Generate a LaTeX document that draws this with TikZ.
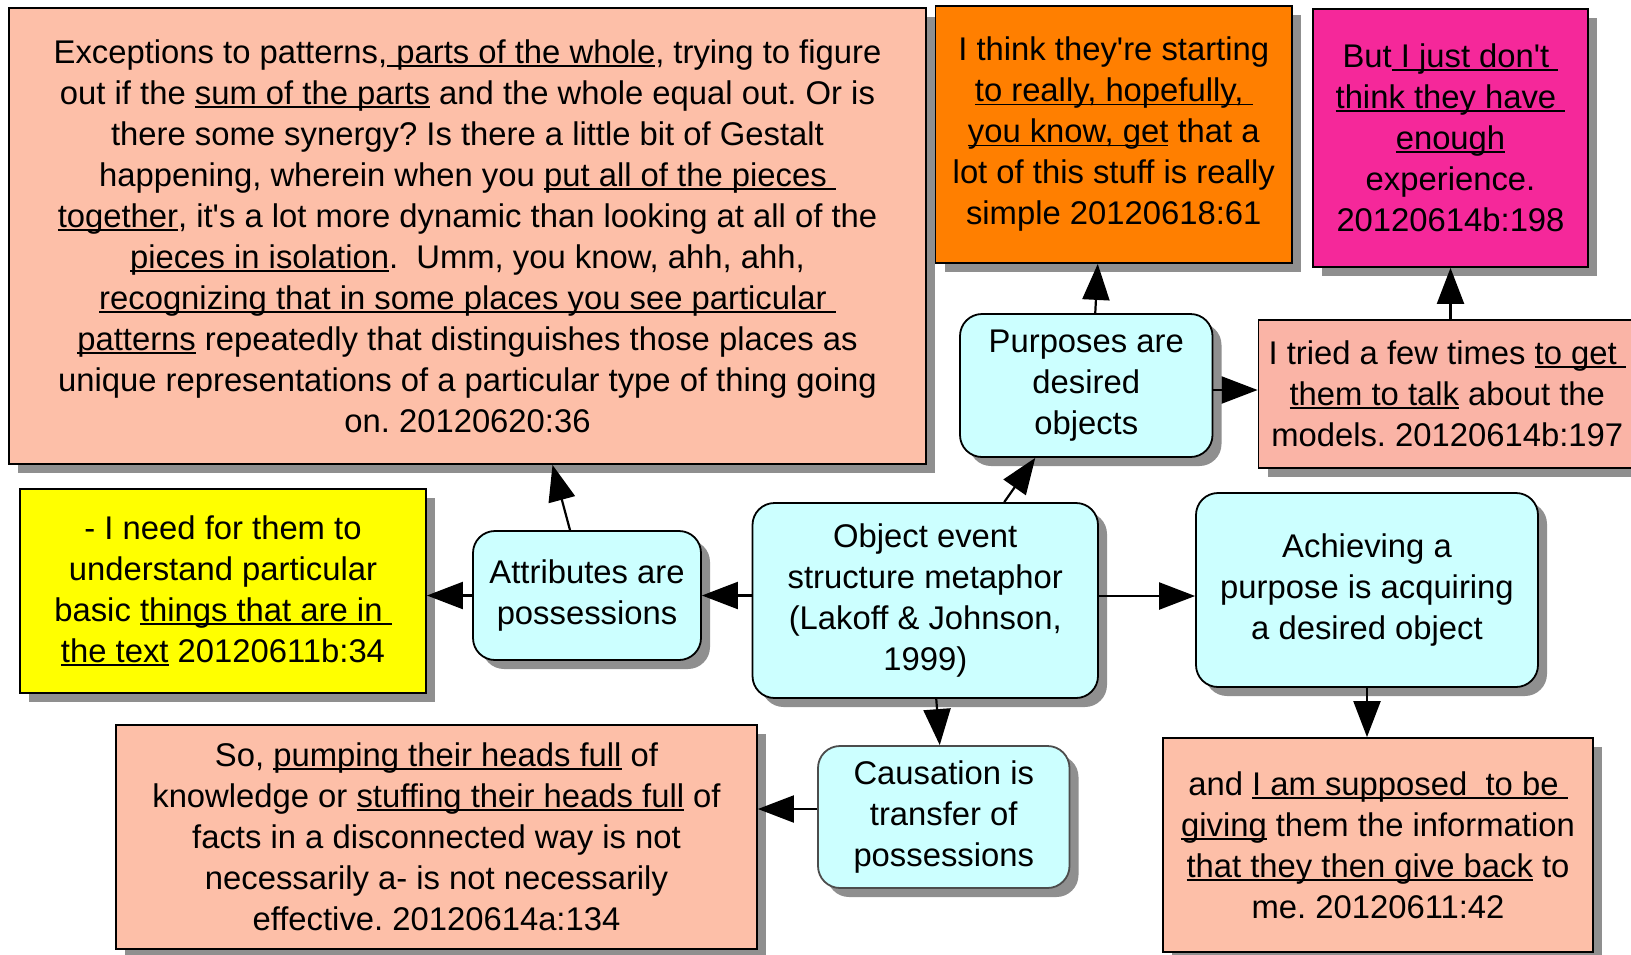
\documentclass[tikz,border=0pt]{standalone}
\usepackage{fontspec}
\setmainfont{Liberation Sans}
\newcommand{\myul}[1]{\setbox0\hbox{#1}\rlap{\rule[-3.5pt]{\wd0}{1.8pt}}\box0\relax}
\newcommand{\ap}{\textquotesingle}
\usetikzlibrary{arrows.meta}
\definecolor{peach}{HTML}{FDBFA8}
\definecolor{pinkpeach}{HTML}{FAB4A6}
\definecolor{orangefill}{HTML}{FF7F00}
\definecolor{magentafill}{HTML}{F5289A}
\definecolor{yellowfill}{HTML}{FFFF00}
\definecolor{cyanfill}{HTML}{CCFFFF}
\definecolor{shadowgray}{HTML}{8F8F8F}
\tikzset{
  shadowed/.style={preaction={fill=shadowgray, draw=none, transform canvas={shift={(9pt,-9pt)}}}},
  box/.style={shadowed, draw=black, line width=1.8pt, align=center, inner sep=0pt,
    font=\fontsize{32.8}{41}\selectfont\frenchspacing},
  rbox/.style={box, rounded corners=22pt, fill=cyanfill},
  arr/.style={-{Triangle[length=36pt,width=27pt]}, line width=2.2pt, draw=black}
}
\begin{document}
\begin{tikzpicture}[x=1pt,y=-1pt]
\useasboundingbox (0,0) rectangle (1631,954);
% text boxes
\node[box, fill=peach, minimum width=917pt, minimum height=456pt] (A) at (467.5,236)
 {Exceptions to patterns,\myul{ parts of the whole}, trying to figure\\
  out if the \myul{sum of the parts} and the whole equal out. Or is\\
  there some synergy? Is there a little bit of Gestalt\\
  happening, wherein when you \myul{put all of the pieces }\\
  \myul{together}, it\ap s a lot more dynamic than looking at all of the\\
  \myul{pieces in isolation}.\ \ Umm, you know, ahh, ahh,\\
  \myul{recognizing that in some places you see particular }\\
  \myul{patterns} repeatedly that distinguishes those places as\\
  unique representations of a particular type of thing going\\
  on. 20120620:36};
\node[box, fill=orangefill, minimum width=356.5pt, minimum height=257pt] (B) at (1113.75,134.5)
 {I think they\ap re starting\\
  \myul{to really, hopefully, }\\
  \myul{you know, get} that a\\
  lot of this stuff is really\\
  simple 20120618:61};
\node[box, fill=magentafill, minimum width=275pt, minimum height=258pt] (C) at (1450.5,138)
 {But\myul{ I just don\ap t }\\
  \myul{think they have }\\
  \myul{enough}\\
  experience.\\
  20120614b:198};
\node[box, fill=pinkpeach, minimum width=377.5pt, minimum height=148pt] (D) at (1447.25,394)
 {I tried a few times \myul{to get }\\
  \myul{them to talk} about the\\
  models. 20120614b:197};
\node[box, fill=yellowfill, minimum width=406pt, minimum height=204pt] (Y) at (223,591)
 {- I need for them to\\
  understand particular\\
  basic \myul{things that are in }\\
  \myul{the text} 20120611b:34};
\node[box, fill=peach, minimum width=641pt, minimum height=224pt] (BL) at (436.5,837)
 {So, \myul{pumping their heads full} of\\
  knowledge or \myul{stuffing their heads full} of\\
  facts in a disconnected way is not\\
  necessarily a- is not necessarily\\
  effective. 20120614a:134};
\node[box, fill=peach, minimum width=430pt, minimum height=214pt] (BR) at (1378,845)
 {and \myul{I am supposed\ \ to be }\\
  \myul{giving} them the information\\
  \myul{that they then give back} to\\
  me. 20120611:42};
% concept boxes
\node[rbox, minimum width=252.5pt, minimum height=143pt] (pur) at (1086.25,385.5)
 {Purposes are\\desired\\objects};
\node[rbox, minimum width=228pt, minimum height=129pt] (attr) at (587,595.5)
 {Attributes are\\possessions};
\node[rbox, minimum width=345.5pt, minimum height=195pt] (obj) at (925.25,600.5)
 {Object event\\structure metaphor\\(Lakoff \& Johnson,\\1999)};
\node[rbox, minimum width=342pt, minimum height=194pt] (ach) at (1367,590)
 {Achieving a\\purpose is acquiring\\a desired object};
\node[rbox, draw=black!70, minimum width=251.5pt, minimum height=142pt] (caus) at (943.75,817)
 {Causation is\\transfer of\\possessions};
% connectors
\draw[arr] ([xshift=-17pt]attr.north) -- ([xshift=85pt]A.south);
\draw[arr] (attr.west) -- (attr.west -| Y.east);
\draw[arr] (obj.west |- attr.east) -- (attr.east);
\draw[arr] ([yshift=4.5pt]obj.east) -- ([yshift=4.5pt]obj.east -| ach.west);
\draw[arr] ([xshift=79pt]obj.north) -- ([xshift=-51pt]pur.south);
\draw[arr] ([xshift=11pt]obj.south) -- ([xshift=-4pt]caus.north);
\draw[arr] ([yshift=8pt]caus.west) -- ([yshift=8pt]caus.west -| BL.east);
\draw[arr] ([xshift=9pt]pur.north) -- ([xshift=-16pt]B.south);
\draw[arr] ([yshift=-4.5pt]pur.east) -- ([yshift=-4.5pt]pur.east -| D.west);
\draw[arr] (D.north -| C.south) -- (C.south);
\draw[arr] (ach.south) -- (ach.south |- BR.north);
\end{tikzpicture}
\end{document}
